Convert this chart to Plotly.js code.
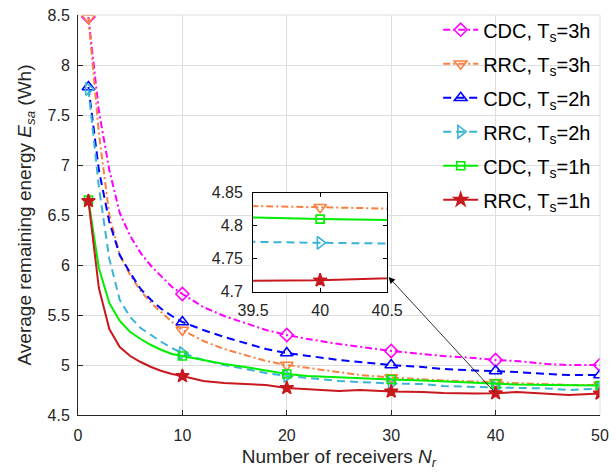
<!DOCTYPE html>
<html><head><meta charset="utf-8">
<script src="https://cdn.plot.ly/plotly-3.0.1.min.js"></script>
<style>html,body{margin:0;padding:0;background:#fff;}#chart{width:616px;height:474px;}</style>
</head><body><div id="chart"></div>
<script>
// ---- data ----
const nr = [1,2,3,4,5,6,7,8,9,10,12,14,16,18,20,22,25,27,30,33,35,38,40,42,45,47,50];
const cdc3h = [8.48,7.54,6.95,6.52,6.29,6.12,5.99,5.88,5.78,5.71,5.58,5.49,5.42,5.35,5.30,5.26,5.21,5.18,5.14,5.11,5.09,5.07,5.05,5.04,5.01,5.00,5.00];
const rrc3h = [8.47,7.32,6.50,6.10,5.90,5.74,5.62,5.52,5.43,5.35,5.24,5.16,5.10,5.04,5.00,4.97,4.93,4.90,4.875,4.855,4.845,4.835,4.828,4.82,4.81,4.80,4.80];
const cdc2h = [7.78,6.95,6.43,6.10,5.92,5.76,5.65,5.56,5.49,5.43,5.35,5.28,5.22,5.16,5.12,5.09,5.05,5.03,5.00,4.98,4.96,4.945,4.94,4.93,4.91,4.90,4.90];
const rrc2h = [7.76,6.78,6.06,5.65,5.48,5.37,5.30,5.23,5.17,5.12,5.05,5.00,4.96,4.92,4.89,4.87,4.84,4.83,4.815,4.81,4.79,4.78,4.774,4.77,4.765,4.75,4.765];
const cdc1h = [6.65,5.97,5.62,5.44,5.33,5.26,5.20,5.15,5.11,5.09,5.05,5.01,4.98,4.945,4.91,4.89,4.875,4.865,4.855,4.845,4.835,4.82,4.81,4.805,4.80,4.795,4.795];
const rrc1h = [6.64,5.77,5.36,5.18,5.09,5.03,4.98,4.94,4.91,4.89,4.84,4.82,4.81,4.80,4.77,4.755,4.74,4.75,4.735,4.73,4.72,4.715,4.717,4.73,4.71,4.70,4.715];
const markerNr = [1,10,20,30,40,50];
const seriesNames = ['CDC, T<sub>s</sub>=3h','RRC, T<sub>s</sub>=3h','CDC, T<sub>s</sub>=2h','RRC, T<sub>s</sub>=2h','CDC, T<sub>s</sub>=1h','RRC, T<sub>s</sub>=1h'];
const seriesValues = [cdc3h, rrc3h, cdc2h, rrc2h, cdc1h, rrc1h];
const xTickVals = [0,10,20,30,40,50];
const yTickVals = [4.5,5,5.5,6,6.5,7,7.5,8,8.5];
const insetXTicks = [39.5,40,40.5];
const insetYTicks = [4.7,4.75,4.8,4.85];

// ---- styles ----
const styles = [
  {color:'#FF00FF', dash:'7px,3px,2px,3px', symbol:'diamond-open', size:10},
  {color:'#FA8040', dash:'7px,3px,2px,3px', symbol:'triangle-down-open', size:11},
  {color:'#0000FF', dash:'8px,5px', symbol:'triangle-up-open', size:11},
  {color:'#3AB4D6', dash:'8px,5px', symbol:'triangle-right-open', size:11},
  {color:'#00EE00', dash:'solid', symbol:'square-open', size:8},
  {color:'#C8191E', dash:'solid', symbol:'star', size:10}
];
const sel = nr.map((v,i)=> markerNr.includes(v) ? i : -1).filter(i=>i>=0);
const txt = '#262626';
const fontFam = 'Liberation Sans, Arial, Helvetica, sans-serif';

function makeTrace(vals, k, xa, ya, legend) {
  const s = styles[k];
  return {
    x: nr, y: vals, type:'scatter', mode:'lines+markers', xaxis:xa, yaxis:ya,
    name: seriesNames[k], showlegend: legend, legendgroup: 'g' + k,
    line:{color:s.color, width:2, dash:s.dash},
    marker:{symbol:s.symbol, size:s.size, color:s.color, line:{color:s.color, width:1.6}},
    selectedpoints: sel,
    selected:{marker:{opacity:1}},
    unselected:{marker:{opacity:0}},
    hoverinfo:'skip'
  };
}
const traces = [];
seriesValues.forEach((vals, k) => traces.push(makeTrace(vals, k, 'x', 'y', true)));
seriesValues.forEach((vals, k) => traces.push(makeTrace(vals, k, 'x2', 'y2', false)));

const axBase = {
  showline:true, linecolor:txt, linewidth:1, ticks:'inside', ticklen:5, tickcolor:txt,
  tickfont:{size:16, color:txt, family:fontFam}, zeroline:false,
  showgrid:true, gridcolor:'#dedede', gridwidth:1
};

const layout = {
  width:616, height:474,
  margin:{l:78, r:16, t:10, b:59},
  paper_bgcolor:'#fff', plot_bgcolor:'#fff',
  font:{family:fontFam, color:txt},
  showlegend:true,
  legend:{x:0.69, y:1.012, xanchor:'left', yanchor:'top', bgcolor:'rgba(0,0,0,0)',
          font:{size:20, color:'#000', family:fontFam}, itemwidth:35,
          traceorder:'grouped', tracegroupgap:5},
  xaxis: Object.assign({}, axBase, {
    range:[0,50], tickvals:xTickVals, ticklabelstandoff:6,
    title:{text:'Number of receivers <i>N<sub>r</sub></i>', font:{size:19, color:txt}, standoff:6}
  }),
  yaxis: Object.assign({}, axBase, {
    range:[4.5,8.5], tickvals:yTickVals, ticklabelstandoff:4,
    title:{text:'Average remaining energy <i>E<sub>sa</sub></i> (Wh)', font:{size:19, color:txt}, standoff:10}
  }),
  xaxis2: {
    domain:[0.3354,0.5923], anchor:'y2', range:[39.5,40.5], tickvals:insetXTicks,
    showline:true, mirror:'ticks', linecolor:'#000', linewidth:1, ticks:'inside', ticklen:4, tickcolor:'#000',
    tickfont:{size:16, color:txt, family:fontFam}, showgrid:false, zeroline:false, ticklabelstandoff:4
  },
  yaxis2: {
    domain:[0.3086,0.5556], anchor:'x2', range:[4.7,4.85], tickvals:insetYTicks,
    showline:true, mirror:'ticks', linecolor:'#000', linewidth:1, ticks:'inside', ticklen:4, tickcolor:'#000',
    tickfont:{size:16, color:txt, family:fontFam}, showgrid:false, zeroline:false, ticklabelstandoff:6
  },
  shapes:[
    {type:'line', xref:'paper', yref:'paper', x0:0, x1:1, y0:1, y1:1, line:{color:'#dedede', width:1}},
    {type:'line', xref:'paper', yref:'paper', x0:1, x1:1, y0:0, y1:1, line:{color:'#dedede', width:1}}
  ],
  annotations:[
    {xref:'x', yref:'y', x:29.75, y:5.88, axref:'x', ayref:'y', ax:40, ay:rrc1h[nr.indexOf(40)],
     text:'', showarrow:true, arrowhead:2, arrowsize:1.6, arrowwidth:0.8, arrowcolor:'#000', standoff:0, startstandoff:0}
  ]
};

Plotly.newPlot('chart', traces, layout, {displayModeBar:false, staticPlot:true});
</script>
</body></html>
